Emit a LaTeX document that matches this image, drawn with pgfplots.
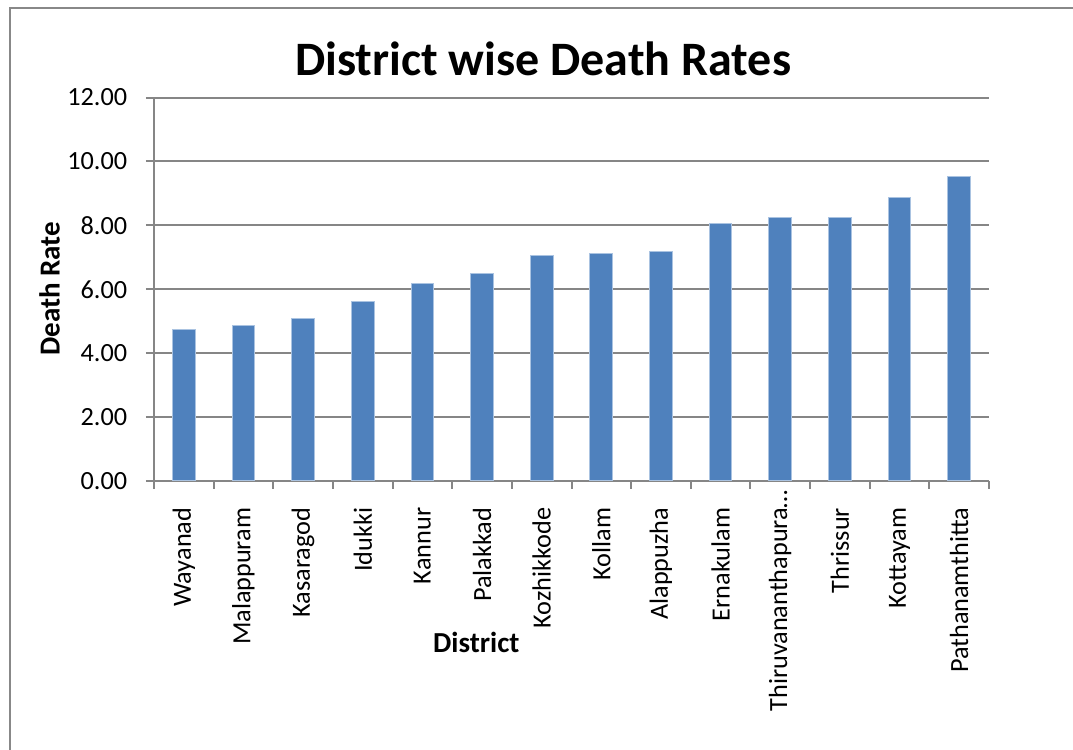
\documentclass[border=0pt]{standalone}
\usepackage{pgfplots}
\pgfplotsset{compat=1.18}
\usepackage{fontspec}
\setmainfont{Carlito}
\definecolor{barblue}{RGB}{79,129,189}
\definecolor{baredge}{RGB}{170,195,225}
\definecolor{gridgray}{RGB}{134,134,134}
\definecolor{framegray}{RGB}{136,136,136}
\begin{document}
\begin{tikzpicture}
\useasboundingbox (0,0) rectangle (429.2pt,300pt);
\draw[framegray, line width=1pt] (4pt,-20pt) -- (4pt,296.8pt) -- (440pt,296.8pt);
\begin{axis}[
    at={(61.6pt,107.6pt)}, anchor=south west,
    scale only axis,
    width=334pt, height=153.4pt,
    ybar, bar width=9.1pt,
    xmin=-0.5, xmax=13.5,
    ymin=0, ymax=12,
    xtick={0,...,13},
    xticklabels={Wayanad,Malappuram,Kasaragod,Idukki,Kannur,Palakkad,Kozhikkode,Kollam,Alappuzha,Ernakulam,{Thiruvananthapura\ldots\hspace*{-7.2pt}},Thrissur,Kottayam,Pathanamthitta},
    x tick label style={rotate=90, anchor=east, font=\fontsize{10.5}{12}\selectfont, xshift=-4pt},
    major x tick style={draw=none},
    minor xtick={-0.5,0.5,...,13.5},
    ytick={0,2,...,12},
    y tick label style={font=\fontsize{10.5}{12}\selectfont, xshift=-4pt},
    yticklabel style={/pgf/number format/fixed, /pgf/number format/fixed zerofill, /pgf/number format/precision=2, /pgf/number format/assume math mode=true},
    tick align=outside,
    major tick length=3.2pt, minor tick length=3.2pt,
    tick style={gridgray, line width=0.8pt},
    axis x line*=bottom, axis y line*=left,
    axis line style={gridgray, line width=0.8pt, -},
    ymajorgrids,
    grid style={gridgray, line width=0.8pt},
    title={District wise Death Rates},
    title style={font=\fontsize{19.2}{22}\selectfont\bfseries, at={(rel axis cs:0.466,1.061)}, anchor=center, yshift=0pt},
    xlabel={District},
    xlabel style={font=\fontsize{11.6}{13}\selectfont\bfseries, at={(rel axis cs:0.386,-0.422)}, anchor=center},
    ylabel={Death Rate},
    ylabel style={font=\fontsize{11.6}{13}\selectfont\bfseries, at={(rel axis cs:-0.125,0.501)}, anchor=center, rotate=0},
    clip=false,
]
\addplot[fill=barblue, draw=baredge, line width=0.4pt] coordinates {
(0,4.73) (1,4.87) (2,5.07) (3,5.63) (4,6.19) (5,6.48) (6,7.07)
(7,7.12) (8,7.19) (9,8.07) (10,8.24) (11,8.26) (12,8.87) (13,9.52)
};
\end{axis}
\end{tikzpicture}
\end{document}
